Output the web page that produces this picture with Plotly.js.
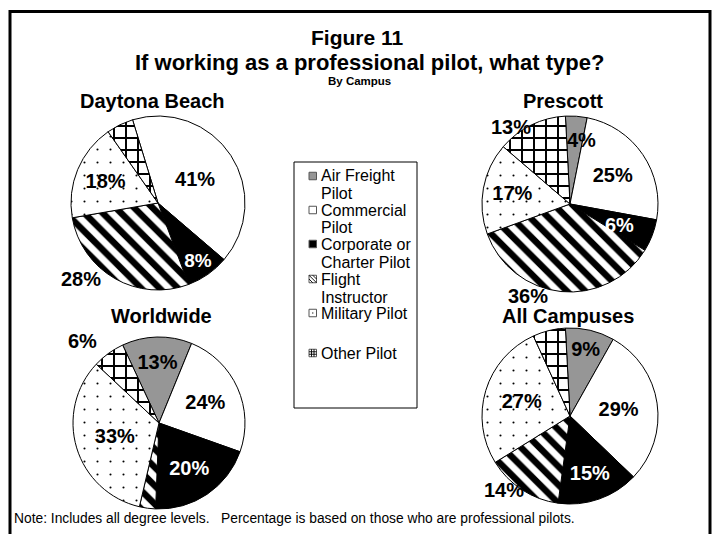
<!DOCTYPE html>
<html><head><meta charset="utf-8">
<script src="https://cdn.plot.ly/plotly-3.0.1.min.js"></script>
<style>html,body{margin:0;padding:0;background:#fff}#chart{width:714px;height:534px}</style>
</head><body><div id="chart"></div>
<script>
// ---- data ----
const categories = ['Air Freight Pilot','Commercial Pilot','Corporate or Charter Pilot','Flight Instructor','Military Pilot','Other Pilot'];
const legendLabels = ['Air Freight<br>Pilot','Commercial<br>Pilot','Corporate or<br>Charter Pilot','Flight<br>Instructor','Military Pilot','Other Pilot'];
const campuses = ['Daytona Beach','Prescott','Worldwide','All Campuses'];
const daytonaValues   = [0, 41, 8, 28, 18, 5];
const prescottValues  = [4, 25, 6, 36, 17, 13];
const worldwideValues = [13, 24, 20, 3, 33, 6];
const allValues       = [9, 29, 15, 14, 27, 6];
// where each slice's percentage is written: 'in' inside the slice, 'out' placed by hand, '' not written
const daytonaLabelPos   = ['', 'in', 'in', 'out', 'in', ''];
const prescottLabelPos  = ['out', 'in', 'out', 'out', 'in', 'out'];
const worldwideLabelPos = ['in', 'in', 'in', '', 'in', 'out'];
const allLabelPos       = ['in', 'in', 'in', 'out', 'in', ''];
const titleText = 'Figure 11';
const subtitleText = 'If working as a professional pilot, what type?';
const subsubText = 'By Campus';
const noteText = 'Note: Includes all degree levels.   Percentage is based on those who are professional pilots.';

// ---- styling ----
const W = 714, H = 534;
const X = p => p / W, Y = p => 1 - p / H;
const FONT = 'Arial, "Liberation Sans", sans-serif';
const sliceColors = ['#969696', '#ffffff', '#000000', '#ffffff', '#ffffff', '#ffffff'];
const textColors  = ['#000', '#000', '#fff', '#000', '#000', '#000'];
const patShapes = ['', '', '', '\\', '.', '+'];
const patSizes  = [10, 10, 10, 13, 13, 12];
const patSolid  = [0.3, 0.3, 0.3, 0.5, 0.02, 0.3];

// pie geometry (pixel centre, radius, start angle) and hand-placed label spots
const pies = [
  {vals: daytonaValues,   pos: daytonaLabelPos,   cx: 158, cy: 203, r: 87, rot: -17, tx: 152, ty: 101, out: {3: [81, 279]}},
  {vals: prescottValues,  pos: prescottLabelPos,  cx: 570, cy: 204, r: 88, rot: -3,  tx: 563, ty: 101, out: {0: [581, 140], 2: [619, 225], 5: [511, 127], 3: [528, 296]}},
  {vals: worldwideValues, pos: worldwideLabelPos, cx: 159, cy: 423, r: 86, rot: -25, tx: 161, ty: 316, out: {5: [82, 341]}},
  {vals: allValues,       pos: allLabelPos,       cx: 570, cy: 416, r: 88, rot: -3,  tx: 568, ty: 316, out: {3: [504, 490]}}
];

const data = pies.map((p, k) => ({
  type: 'pie', name: campuses[k], labels: categories, values: p.vals,
  sort: false, direction: 'clockwise', rotation: p.rot,
  domain: {x: [X(p.cx - p.r), X(p.cx + p.r)], y: [Y(p.cy + p.r), Y(p.cy - p.r)]},
  text: p.vals.map((v, i) => p.pos[i] === 'in' ? v + '%' : ''),
  textinfo: 'text',
  textposition: p.pos.map(s => s === 'in' ? 'inside' : 'none'),
  insidetextorientation: 'horizontal',
  insidetextfont: {family: FONT, size: 20, weight: 'bold', color: textColors},
  marker: {
    colors: sliceColors,
    line: {color: '#000', width: 1},
    pattern: {shape: patShapes, fgcolor: '#000', bgcolor: '#fff', size: patSizes, solidity: patSolid}
  },
  showlegend: false,
  hovertemplate: '%{label}: %{value}%<extra>' + campuses[k] + '</extra>'
}));

const annotations = [];
const shapes = [];
function addText(text, x, y, size, opts) {
  annotations.push(Object.assign({
    text: text, x: X(x), y: Y(y), xref: 'paper', yref: 'paper', showarrow: false,
    xanchor: 'center', yanchor: 'middle', font: {family: FONT, size: size, color: '#000'}
  }, opts || {}));
}
addText('<b>' + titleText + '</b>', 357, 38, 21);
addText('<b>' + subtitleText + '</b>', 369, 62, 22);
addText('<b>' + subsubText + '</b>', 359, 81, 11.5);
addText(noteText, 12, 518, 13.8, {xanchor: 'left'});

pies.forEach((p, k) => {
  addText('<b>' + campuses[k] + '</b>', p.tx, p.ty, 20);
  Object.keys(p.out).forEach(i => {
    addText('<b>' + p.vals[i] + '%</b>', p.out[i][0], p.out[i][1], 20,
      {font: {family: FONT, size: 20, color: textColors[i]}});
  });
});

// outer frame
shapes.push({type: 'rect', xref: 'paper', yref: 'paper', x0: X(10), x1: X(710), y0: Y(560), y1: Y(11.5),
  line: {color: '#000', width: 3}, fillcolor: 'rgba(0,0,0,0)', layer: 'below'});
// legend box
shapes.push({type: 'rect', xref: 'paper', yref: 'paper', x0: X(294), x1: X(417), y0: Y(408), y1: Y(162),
  line: {color: '#000', width: 1}, fillcolor: 'rgba(0,0,0,0)'});

// legend entries
const legendLineY = [[176, 193], [210, 227], [244, 262], [279, 297], [313], [353]];
legendLabels.forEach((lab, i) => {
  const lines = lab.split('<br>');
  lines.forEach((ln, j) => addText(ln, 319, legendLineY[i][j], 16, {xanchor: 'left'}));
  const yc = legendLineY[i][0], x0 = 309, x1 = 316.5, y0 = yc - 3.75, y1 = yc + 3.75;
  shapes.push({type: 'rect', xref: 'paper', yref: 'paper', x0: X(x0), x1: X(x1), y0: Y(y1), y1: Y(y0),
    line: {color: '#555', width: 1}, fillcolor: sliceColors[i]});
  let path = '';
  if (patShapes[i] === '\\') {
    const m = (x0 + x1) / 2, n = (y0 + y1) / 2;
    path = `M${X(x0)},${Y(y0)}L${X(x1)},${Y(y1)}M${X(m)},${Y(y0)}L${X(x1)},${Y(n)}M${X(x0)},${Y(n)}L${X(m)},${Y(y1)}`;
  } else if (patShapes[i] === '+') {
    const a = x0 + 2.5, b = x0 + 5, c = y0 + 2.5, d = y0 + 5;
    path = `M${X(a)},${Y(y0)}L${X(a)},${Y(y1)}M${X(b)},${Y(y0)}L${X(b)},${Y(y1)}M${X(x0)},${Y(c)}L${X(x1)},${Y(c)}M${X(x0)},${Y(d)}L${X(x1)},${Y(d)}`;
  } else if (patShapes[i] === '.') {
    const m = (x0 + x1) / 2, n = (y0 + y1) / 2;
    path = `M${X(m - 0.6)},${Y(n)}L${X(m + 0.6)},${Y(n)}`;
  }
  if (path) shapes.push({type: 'path', xref: 'paper', yref: 'paper', path: path,
    line: {color: '#000', width: patShapes[i] === '.' ? 1.2 : 0.9}});
});

const layout = {
  width: W, height: H, margin: {l: 0, r: 0, t: 0, b: 0},
  paper_bgcolor: '#fff', plot_bgcolor: '#fff', showlegend: false,
  font: {family: FONT, color: '#000'},
  annotations: annotations, shapes: shapes
};
Plotly.newPlot('chart', data, layout, {displayModeBar: false});
</script>
</body></html>
